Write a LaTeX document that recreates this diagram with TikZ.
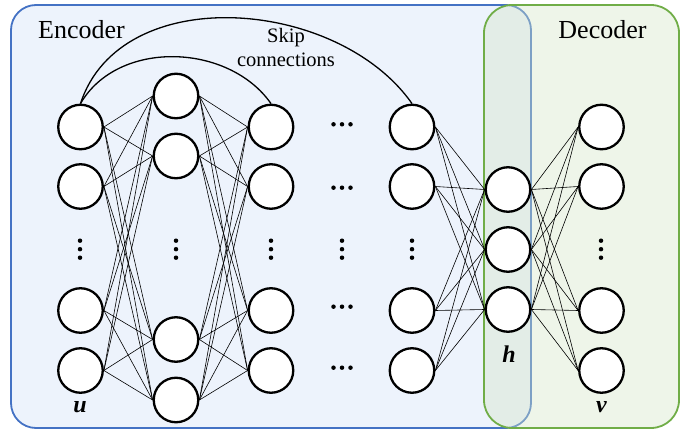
\documentclass[tikz,border=0pt]{standalone}
\usepackage{fontspec}
\setmainfont{Liberation Serif}
\definecolor{encfill}{HTML}{EDF3FC}
\definecolor{encline}{HTML}{4472C4}
\definecolor{decfill}{HTML}{D4E6C8}
\definecolor{decline}{HTML}{70AD47}
\begin{document}
\begin{tikzpicture}[x=1pt,y=-1pt,
  neuron/.style={circle,draw,line width=2.3pt,fill=white,minimum size=44.5pt,inner sep=0pt},
  conn/.style={line width=0.6pt},
  skiparc/.style={line width=1.3pt},
  dotmark/.style={circle,fill=black,inner sep=0pt,minimum size=4.5pt},
  bigtext/.style={font=\fontsize{26}{30}\selectfont,anchor=base,inner sep=0pt},
  vartext/.style={font=\fontsize{24}{28}\selectfont\bfseries\itshape,anchor=base,inner sep=0pt}]
\useasboundingbox (0,0) rectangle (694,430);
% boxes
\draw[encline,fill=encfill,rounded corners=25pt,line width=1.8pt] (11,5) rectangle (531,428);
\fill[decfill,fill opacity=0.4,rounded corners=28pt] (484,5) rectangle (679,428);
\draw[decline,rounded corners=28pt,line width=1.8pt] (484,5) rectangle (679,428);
% titles
\node[bigtext] (enc) at (81.5,39) {Encoder};
\node[bigtext] (dec) at (602.5,39) {Decoder};
\node[font=\fontsize{20.5}{24}\selectfont,align=center,anchor=base,inner sep=0pt] (skip) at (286,67) {Skip\\connections};
% neurons
\foreach \n/\y in {1/127,2/186.5,3/310.5,4/370.5}{
  \node[neuron] (a\n) at (80.5,\y) {};
  \node[neuron] (c\n) at (271,\y) {};
  \node[neuron] (e\n) at (412,\y) {};
  \node[neuron] (d\n) at (601.5,\y) {};
}
\foreach \n/\y in {1/96,2/156,3/339.5,4/400}{
  \node[neuron] (b\n) at (176,\y) {};
}
\foreach \n/\y in {1/189.5,2/249.5,3/309.5}{
  \node[neuron] (h\n) at (508,\y) {};
}
% connections
\foreach \i in {1,...,4}{
  \foreach \j in {1,...,4}{
    \draw[conn] (a\i.east) -- (b\j.west);
    \draw[conn] (b\i.east) -- (c\j.west);
  }
  \foreach \j in {1,...,3}{
    \draw[conn] (e\i.east) -- (h\j.west);
    \draw[conn] (h\j.east) -- (d\i.west);
  }
}
% skip connections
\draw[skiparc] (a1.north) to[out=60,in=125] (c1.north);
\draw[skiparc] (a1.north) to[out=72,in=125] (e1.north);
% vertical dots
\foreach \x/\nm in {80/a,176/b,271/c,342/m,412/e,601/d}{
  \foreach \k/\y in {1/240.7,2/249.2,3/257.7}{
    \node[dotmark] (vd\nm\k) at (\x,\y) {};
  }
}
% horizontal dots
\foreach \r/\y in {1/124.3,2/187.7,3/306.7,4/367.7}{
  \foreach \k/\x in {1/333.5,2/342,3/350.5}{
    \node[dotmark] (hd\r\k) at (\x,\y) {};
  }
}
% variable labels
\node[vartext] (u) at (80,413) {u};
\node[vartext] (h) at (509,363) {h};
\node[vartext] (v) at (601.5,413) {v};
\end{tikzpicture}
\end{document}
